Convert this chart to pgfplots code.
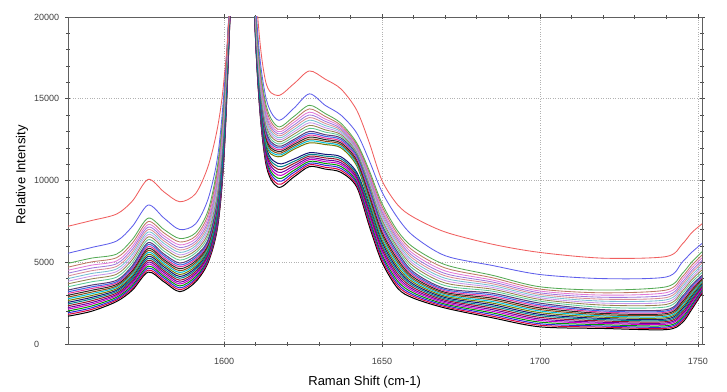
\documentclass[border=0pt]{standalone}
\usepackage{fontspec}
\setmainfont{Liberation Sans}
\usepackage{pgfplots}
\usepackage{pgfplotstable}
\pgfplotsset{compat=1.18}

\definecolor{cR}{RGB}{240,95,95}
\definecolor{cBl}{RGB}{95,95,235}
\definecolor{cG}{RGB}{85,170,85}
\definecolor{cP1}{RGB}{190,120,100}
\definecolor{cP2}{RGB}{225,120,215}
\definecolor{cP3}{RGB}{160,120,220}
\definecolor{cP4}{RGB}{215,140,150}
\definecolor{cP5}{RGB}{120,190,210}
\definecolor{cP6}{RGB}{200,150,235}
\definecolor{cP7}{RGB}{150,130,80}
\definecolor{cP8}{RGB}{90,200,150}
\definecolor{cD1}{RGB}{0,0,0}
\definecolor{cD2}{RGB}{220,0,60}
\definecolor{cD3}{RGB}{40,40,220}
\definecolor{cD4}{RGB}{0,150,0}
\definecolor{cD5}{RGB}{200,0,200}
\definecolor{cD6}{RGB}{110,0,160}
\definecolor{cD7}{RGB}{150,20,40}
\definecolor{cD8}{RGB}{0,130,140}
\definecolor{cD9}{RGB}{20,20,120}
\definecolor{cD10}{RGB}{120,120,0}
\definecolor{cD11}{RGB}{0,190,210}
\definecolor{cD12}{RGB}{140,70,20}
\definecolor{cD13}{RGB}{40,40,40}
\definecolor{cD14}{RGB}{230,50,150}
\definecolor{cD15}{RGB}{60,100,230}
\definecolor{cD16}{RGB}{90,60,120}

\pgfplotstableread{
x R Bl G P1 P2 P3 P4 P5 P6 P7 P8 D1 D2 D3 D4 D5 D6 D7 D8 D9 D10 D11 D12 D13 D14 D15 D16
1550.6 7200 5550 4930 4700 4510 4330 4160 4000 3840 3680 3500 1700 1810 1910 2020 2130 2230 2340 2450 2550 2660 2770 2870 2980 3090 3190 3300
1558 7550 5900 5250 5020 4820 4640 4480 4310 4150 3980 3800 2000 2110 2210 2320 2430 2530 2640 2750 2850 2960 3070 3170 3280 3390 3490 3600
1566 7950 6300 5500 5280 5080 4910 4750 4590 4430 4270 4090 2600 2690 2770 2860 2950 3030 3120 3210 3290 3380 3470 3550 3640 3730 3810 3900
1571 8750 7200 6400 6180 5980 5810 5650 5490 5330 5170 4990 3300 3400 3500 3600 3700 3800 3900 4000 4100 4200 4300 4400 4500 4600 4700 4800
1576 10070 8500 7700 7490 7310 7150 7000 6850 6700 6550 6380 4400 4520 4640 4760 4880 5000 5120 5240 5360 5480 5600 5720 5840 5960 6080 6200
1581 9300 7700 7000 6790 6610 6450 6300 6150 6000 5850 5680 3800 3910 4030 4140 4250 4370 4480 4590 4710 4820 4930 5050 5160 5270 5390 5500
1586 8700 7000 6450 6240 6060 5900 5750 5600 5450 5300 5130 3200 3320 3430 3550 3670 3780 3900 4020 4130 4250 4370 4480 4600 4720 4830 4950
1591 9200 7350 6800 6600 6440 6280 6140 6000 5860 5720 5570 3800 3910 4010 4120 4230 4330 4440 4550 4650 4760 4870 4970 5080 5190 5290 5400
1595 10900 8900 8200 7950 7730 7530 7350 7170 6990 6810 6620 5000 5090 5190 5280 5370 5470 5560 5650 5750 5840 5930 6030 6120 6210 6310 6400
1598 13300 11500 11000 10720 10480 10260 10060 9860 9660 9460 9240 7200 7320 7440 7560 7680 7800 7920 8040 8160 8280 8400 8520 8640 8760 8880 9000
1600 16200 15500 15000 14790 14610 14450 14300 14150 14000 13850 13680 11500 11630 11770 11900 12030 12170 12300 12430 12570 12700 12830 12970 13100 13230 13370 13500
1602 21500 22000 22000 22000 22000 22000 22000 22000 22000 22000 22000 20500 20600 20700 20800 20900 21000 21100 21200 21300 21400 21500 21600 21700 21800 21900 22000
1606 40000 40000 40000 40000 40000 40000 40000 40000 40000 40000 40000 40000 40000 40000 40000 40000 40000 40000 40000 40000 40000 40000 40000 40000 40000 40000 40000
1610 22000 21000 20500 20360 20240 20130 20030 19930 19830 19730 19620 18500 18570 18630 18700 18770 18830 18900 18970 19030 19100 19170 19230 19300 19370 19430 19500
1613 16200 15300 14900 14680 14480 14310 14150 13990 13830 13670 13490 11300 11430 11570 11700 11830 11970 12100 12230 12370 12500 12630 12770 12900 13030 13170 13300
1617 15200 13700 13300 13130 12990 12860 12740 12620 12500 12380 12240 9600 9780 9960 10140 10330 10510 10690 10870 11050 11450 11560 11670 11780 11880 11990 12100
1622 15900 14400 13900 13700 13540 13380 13240 13100 12960 12820 12670 10200 10340 10480 10610 10750 10890 11030 11160 11300 11900 12000 12100 12200 12300 12400 12500
1627 16700 15300 14600 14380 14180 14010 13850 13690 13530 13370 13190 10850 10960 11060 11170 11280 11380 11490 11590 11700 12300 12420 12530 12650 12770 12880 13000
1632 16200 14600 14100 13920 13760 13620 13490 13360 13230 13100 12960 10700 10810 10930 11040 11150 11260 11380 11490 11600 12200 12300 12400 12500 12600 12700 12800
1637 15600 14000 13500 13370 13270 13170 13080 12990 12900 12810 12710 10500 10620 10740 10860 10980 11090 11210 11330 11450 12000 12100 12200 12300 12400 12500 12600
1642 14300 12900 12300 12200 12120 12040 11970 11900 11830 11760 11680 9600 9710 9830 9940 10050 10160 10280 10390 10500 10900 11020 11130 11250 11370 11480 11600
1646 12300 11200 10600 10460 10340 10230 10130 10030 9930 9830 9720 7200 7360 7520 7680 7840 8000 8160 8320 8480 8640 8800 8960 9120 9280 9440 9600
1650 10000 9300 8600 8420 8260 8120 7990 7860 7730 7600 7460 5000 5150 5310 5460 5610 5770 5920 6070 6230 6380 6530 6690 6840 6990 7150 7300
1655 8500 7700 6900 6720 6560 6420 6290 6160 6030 5900 5760 3400 3550 3690 3840 3990 4130 4280 4430 4570 4720 4870 5010 5160 5310 5450 5600
1660 7750 6600 5900 5690 5510 5350 5200 5050 4900 4750 4580 2800 2910 3010 3120 3230 3330 3440 3550 3650 3760 3870 3970 4080 4190 4290 4400
1670 6850 5400 4850 4650 4470 4310 4170 4020 3880 3730 3570 2200 2280 2360 2440 2520 2600 2680 2760 2840 2920 3000 3080 3160 3240 3320 3400
1685 6100 4800 4200 4050 3910 3790 3680 3570 3460 3350 3230 1600 1700 1800 1900 2000 2100 2200 2300 2400 2500 2600 2700 2800 2900 3000 3100
1700 5600 4250 3500 3360 3240 3130 3030 2930 2830 2730 2620 1050 1150 1240 1340 1440 1530 1630 1730 1820 1920 2020 2110 2210 2310 2400 2500
1720 5250 4000 3300 3130 2990 2860 2740 2620 2500 2380 2240 950 1030 1100 1180 1260 1330 1410 1490 1560 1640 1720 1790 1870 1950 2020 2100
1740 5350 4100 3500 3300 3140 2980 2840 2700 2560 2420 2270 880 960 1040 1120 1210 1290 1370 1450 1530 1610 1690 1780 1860 1940 2020 2100
1745 6100 5000 4300 4100 3940 3780 3640 3500 3360 3220 3070 1300 1410 1510 1620 1730 1830 1940 2050 2150 2260 2370 2470 2580 2690 2790 2900
1748 6800 5600 5000 4800 4640 4480 4340 4200 4060 3920 3770 2100 2200 2300 2400 2500 2600 2700 2800 2900 3000 3100 3200 3300 3400 3500 3600
1751.3 7350 6150 5640 5440 5270 5110 4960 4820 4680 4530 4370 3100 3170 3250 3320 3390 3470 3540 3610 3690 3760 3830 3910 3980 4050 4130 4200
}\spectra

\begin{document}
\begin{tikzpicture}
\useasboundingbox (-68pt,-47pt) rectangle (659pt,344pt);
\begin{axis}[
  at={(0pt,0pt)}, anchor=south west,
  scale only axis, width=634pt, height=327pt,
  xmin=1550.6, xmax=1751.3, ymin=0, ymax=20000,
  xtick={1600,1650,1700,1750},
  ytick={0,5000,10000,15000,20000},
  minor x tick num=4, minor y tick num=4,
  scaled y ticks=false, scaled x ticks=false,
  /pgf/number format/.cd, 1000 sep={}, assume math mode=true,
  /pgfplots/.cd,
  grid=major,
  major grid style={dotted, gray!60, line width=0.7pt},
  axis line style={gray!75!black, line width=0.9pt},
  tick style={gray!60!black, line width=0.6pt},
  tick align=center,
  major tick length=5pt, minor tick length=3.5pt,
  tick label style={font=\fontsize{9}{10}\selectfont, text=black!75},
  yticklabel style={anchor=west, xshift=-35pt},
  xticklabel style={yshift=-8pt},
  xlabel={Raman Shift (cm-1)},
  xlabel style={at={(axis description cs:0.468,-0.116)}, anchor=center, font=\fontsize{13}{15}\selectfont},
  ylabel={Relative Intensity},
  ylabel style={at={(axis description cs:-0.0726,0.517)}, anchor=center, font=\fontsize{13}{15}\selectfont},
]
\pgfplotsinvokeforeach{D1,D9,D2,D10,D3,D11,D4,D12,D5,D13,D6,D14,D7,D15,D8,D16}{
  \addplot[draw=c#1, line width=1pt, smooth, tension=0.5] table[x=x, y=#1]{\spectra};
}
\pgfplotsinvokeforeach{P8,P7,P6,P5,P4,P3,P2,P1,G,Bl,R}{
  \addplot[draw=c#1, line width=0.85pt, smooth, tension=0.5] table[x=x, y=#1]{\spectra};
}
\end{axis}
\end{tikzpicture}
\end{document}
